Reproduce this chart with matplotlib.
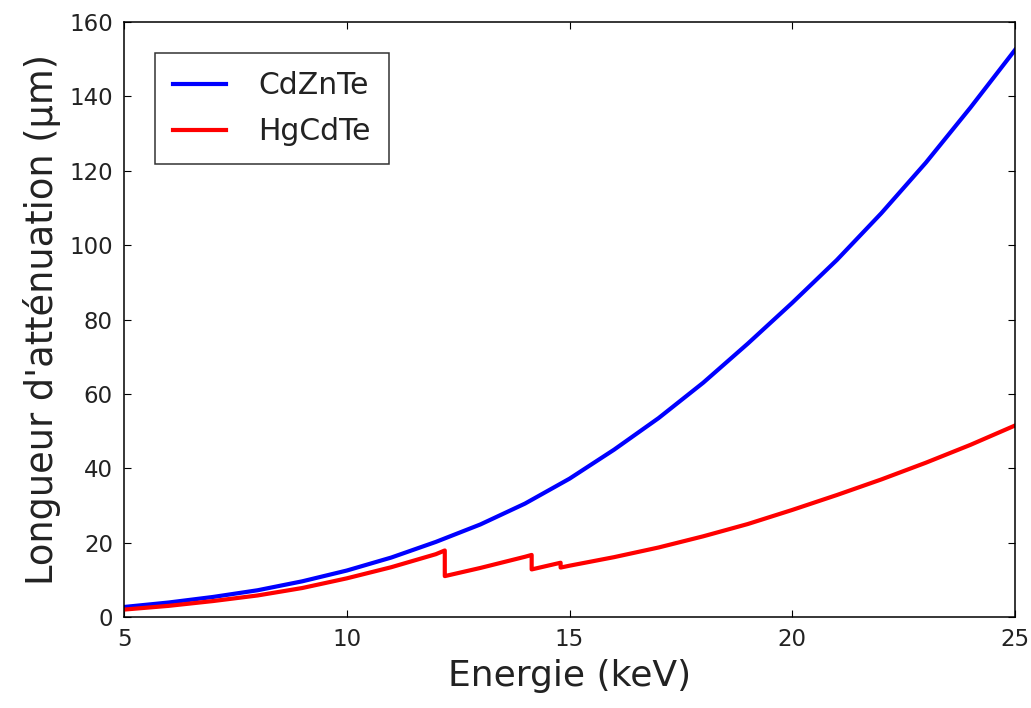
import numpy as np
import matplotlib
matplotlib.use('Agg')
import matplotlib.pyplot as plt

# energies (keV) and attenuation lengths (um)
E_czt = [5, 6, 7, 8, 9, 10, 11, 12, 13, 14, 15, 16, 17, 18, 19, 20, 21, 22, 23, 24, 25]
L_czt = [2.7, 3.9, 5.4, 7.2, 9.6, 12.5, 16.0, 20.2, 24.9, 30.5, 37.2, 45.0, 53.5, 63.0,
         73.5, 84.5, 96.0, 108.6, 122.2, 137.0, 152.5]

# HgCdTe has the Hg L3, L2, L1 absorption edges (repeated energy = vertical drop)
E_mct = [5, 6, 7, 8, 9, 10, 11, 12, 12.2, 12.2, 13, 14, 14.15, 14.15, 14.8, 14.8,
         15, 16, 17, 18, 19, 20, 21, 22, 23, 24, 25]
L_mct = [2.0, 3.0, 4.3, 5.8, 7.8, 10.4, 13.4, 16.9, 17.9, 11.0, 13.2, 16.2, 16.7, 12.8,
         14.6, 13.3, 13.8, 16.1, 18.7, 21.7, 25.0, 28.8, 32.8, 37.0, 41.5, 46.3, 51.5]

xticks = [5, 10, 15, 20, 25]
yticks = [0, 20, 40, 60, 80, 100, 120, 140, 160]

txt = '#222222'

fig = plt.figure(figsize=(10.31, 7.08), dpi=100)
ax = fig.add_axes([0.1203, 0.1285, 0.8642, 0.8404])

ax.plot(E_czt, L_czt, '-', color='blue', lw=3, label='CdZnTe')
ax.plot(E_mct, L_mct, '-', color='red', lw=3, label='HgCdTe')

ax.set_xlim(5, 25)
ax.set_ylim(0, 160)
ax.set_xticks(xticks)
ax.set_yticks(yticks)
ax.tick_params(direction='in', top=True, right=True, length=5, width=0.8,
               labelsize=16.5, pad=8, labelcolor=txt)
for s in ax.spines.values():
    s.set_linewidth(1.1)

ax.set_xlabel('Energie (keV)', fontsize=26, labelpad=6, color=txt)
ax.set_ylabel("Longueur d'atténuation (µm)", fontsize=26.5, labelpad=6, color=txt)

leg = ax.legend(loc='upper left', fontsize=21.5, handlelength=1.75, handletextpad=1.1,
                borderaxespad=1.05, borderpad=0.6, labelspacing=0.56, fancybox=False)
leg.get_frame().set_edgecolor('black')
leg.get_frame().set_linewidth(1.1)
for t in leg.get_texts():
    t.set_color(txt)

fig.savefig('out.png', dpi=100)
